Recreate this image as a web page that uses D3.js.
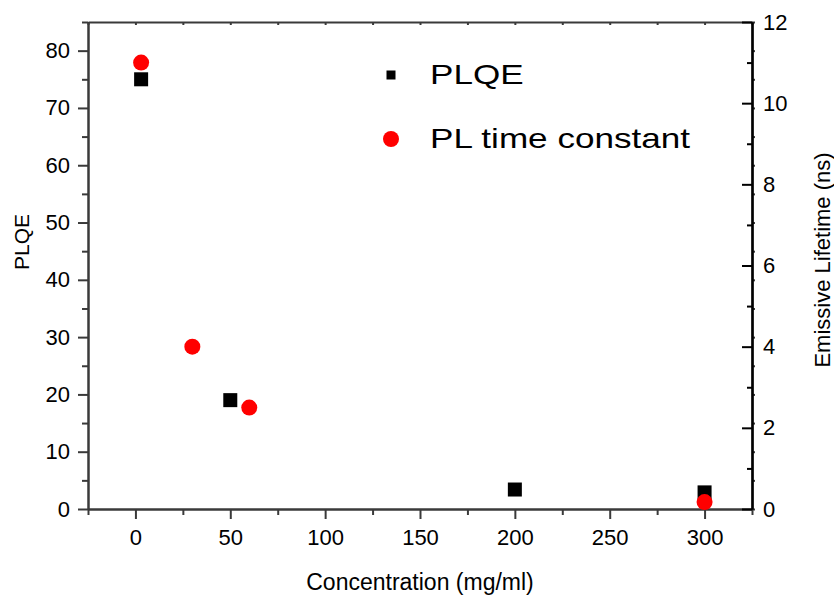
<!DOCTYPE html>
<html>
<head>
<meta charset="utf-8">
<script src="https://cdn.jsdelivr.net/npm/d3@7"></script>
<style>
  body { margin: 0; background: #fff; }
  svg text { font-family: Arial, 'Liberation Sans', sans-serif; fill: #000; }
</style>
</head>
<body>
<div id="chartwrap"></div>
<script>
const WIDTH = 834;
const HEIGHT = 596;
const PAD = { left: 88, right: 82, top: 22, bottom: 87 };

const chart = {
  w: WIDTH - PAD.left - PAD.right,
  h: HEIGHT - PAD.top - PAD.bottom
};

// data
const plqeConc = [3, 50, 200, 300];
const plqeValues = [75, 19, 3.4, 2.9];
const tauConc = [3, 30, 60, 300];
const tauValues = [11, 4, 2.5, 0.17];

const seriesNames = ['PLQE', 'PL time constant'];

const xTicks = [0, 50, 100, 150, 200, 250, 300];
const xMinor = [-25, 25, 75, 125, 175, 225, 275, 325];
const yTicks = [0, 10, 20, 30, 40, 50, 60, 70, 80];
const yMinor = [5, 15, 25, 35, 45, 55, 65, 75, 85];
const y2Ticks = [0, 2, 4, 6, 8, 10, 12];
const y2Minor = [1, 3, 5, 7, 9, 11];

const GREY = '#3a3a3a';

const xScale = d3.scaleLinear().domain([-25, 325]).range([0, chart.w]);
const yScale = d3.scaleLinear().domain([0, 85]).range([chart.h, 0]);
const y2Scale = d3.scaleLinear().domain([0, 12]).range([chart.h, 0]);

const svg = d3.select('#chartwrap')
  .append('svg')
  .attr('width', WIDTH)
  .attr('height', HEIGHT);

const g = svg.append('g')
  .attr('transform', `translate(${PAD.left},${PAD.top})`);

function styleAxis(sel, color) {
  sel.selectAll('path.domain').attr('stroke', color).attr('stroke-width', 2);
  sel.selectAll('.tick line').attr('stroke', color).attr('stroke-width', 2);
  sel.selectAll('.tick text').style('font-size', '22px').attr('fill', '#000');
}

// mirrored ticks (drawn first so main axes sit on top)
g.append('g')
  .attr('class', 'top-mirror')
  .call(d3.axisBottom(xScale).tickValues(xTicks.concat(xMinor)).tickSize(3).tickSizeOuter(0).tickFormat(''))
  .call(styleAxis, GREY);

g.append('g')
  .attr('class', 'right-mirror')
  .attr('transform', `translate(${chart.w},0)`)
  .call(d3.axisRight(yScale).tickValues(yTicks.concat(yMinor)).tickSize(3).tickSizeOuter(0).tickFormat(''))
  .call(styleAxis, GREY);

// bottom axis
g.append('g')
  .attr('class', 'x-minor')
  .attr('transform', `translate(0,${chart.h})`)
  .call(d3.axisBottom(xScale).tickValues(xMinor).tickSize(6).tickSizeOuter(0).tickFormat(''))
  .call(styleAxis, GREY);

g.append('g')
  .attr('id', 'x-axis')
  .attr('transform', `translate(0,${chart.h})`)
  .call(d3.axisBottom(xScale).tickValues(xTicks).tickSize(10).tickPadding(10).tickSizeOuter(0))
  .call(styleAxis, GREY);

// left axis
g.append('g')
  .attr('class', 'y-minor')
  .call(d3.axisLeft(yScale).tickValues(yMinor).tickSize(6).tickSizeOuter(0).tickFormat(''))
  .call(styleAxis, GREY);

g.append('g')
  .attr('id', 'y-axis')
  .call(d3.axisLeft(yScale).tickValues(yTicks).tickSize(10).tickPadding(8).tickSizeOuter(0))
  .call(styleAxis, GREY);

// right axis, ticks pointing inward
g.append('g')
  .attr('class', 'y2-minor')
  .attr('transform', `translate(${chart.w},0)`)
  .call(d3.axisRight(y2Scale).tickValues(y2Minor).tickSize(-5).tickSizeOuter(0).tickFormat(''))
  .call(styleAxis, '#000');

g.append('g')
  .attr('id', 'y2-axis')
  .attr('transform', `translate(${chart.w},0)`)
  .call(d3.axisRight(y2Scale).tickValues(y2Ticks).tickSize(-10).tickPadding(11).tickSizeOuter(0))
  .call(styleAxis, '#000');

// axis titles
svg.append('text')
  .attr('x', PAD.left + chart.w / 2)
  .attr('y', 590)
  .attr('text-anchor', 'middle')
  .style('font-size', '23px')
  .text('Concentration (mg/ml)');

svg.append('text')
  .attr('transform', 'translate(29,242) rotate(-90)')
  .attr('text-anchor', 'middle')
  .style('font-size', '21px')
  .text('PLQE');

svg.append('text')
  .attr('transform', 'translate(830,260) rotate(-90)')
  .attr('text-anchor', 'middle')
  .style('font-size', '22px')
  .text('Emissive Lifetime (ns)');

// PLQE squares
const SQ = 14;
g.selectAll('rect.plqe')
  .data(plqeConc.map((c, i) => ({ c, v: plqeValues[i] })))
  .enter()
  .append('rect')
  .attr('class', 'plqe')
  .attr('x', d => xScale(d.c) - SQ / 2)
  .attr('y', d => yScale(d.v) - SQ / 2)
  .attr('width', SQ)
  .attr('height', SQ)
  .attr('fill', '#000');

// PL time constant circles
g.selectAll('circle.tau')
  .data(tauConc.map((c, i) => ({ c, v: tauValues[i] })))
  .enter()
  .append('circle')
  .attr('class', 'tau')
  .attr('cx', d => xScale(d.c))
  .attr('cy', d => y2Scale(d.v))
  .attr('r', 8)
  .attr('fill', '#ff0000');

// legend
const legend = svg.append('g')
  .attr('transform', 'translate(391,0)');

legend.append('rect')
  .attr('x', -4.5)
  .attr('y', 70.5)
  .attr('width', 9)
  .attr('height', 9)
  .attr('fill', '#000');

legend.append('circle')
  .attr('cx', 0)
  .attr('cy', 139)
  .attr('r', 8)
  .attr('fill', '#ff0000');

// legend labels are drawn wide in the original
legend.selectAll('text')
  .data(seriesNames)
  .enter()
  .append('text')
  .attr('transform', (d, i) => `translate(39,${84 + i * 64}) scale(1.3,1)`)
  .style('font-size', '27px')
  .text(d => d);
</script>
</body>
</html>
